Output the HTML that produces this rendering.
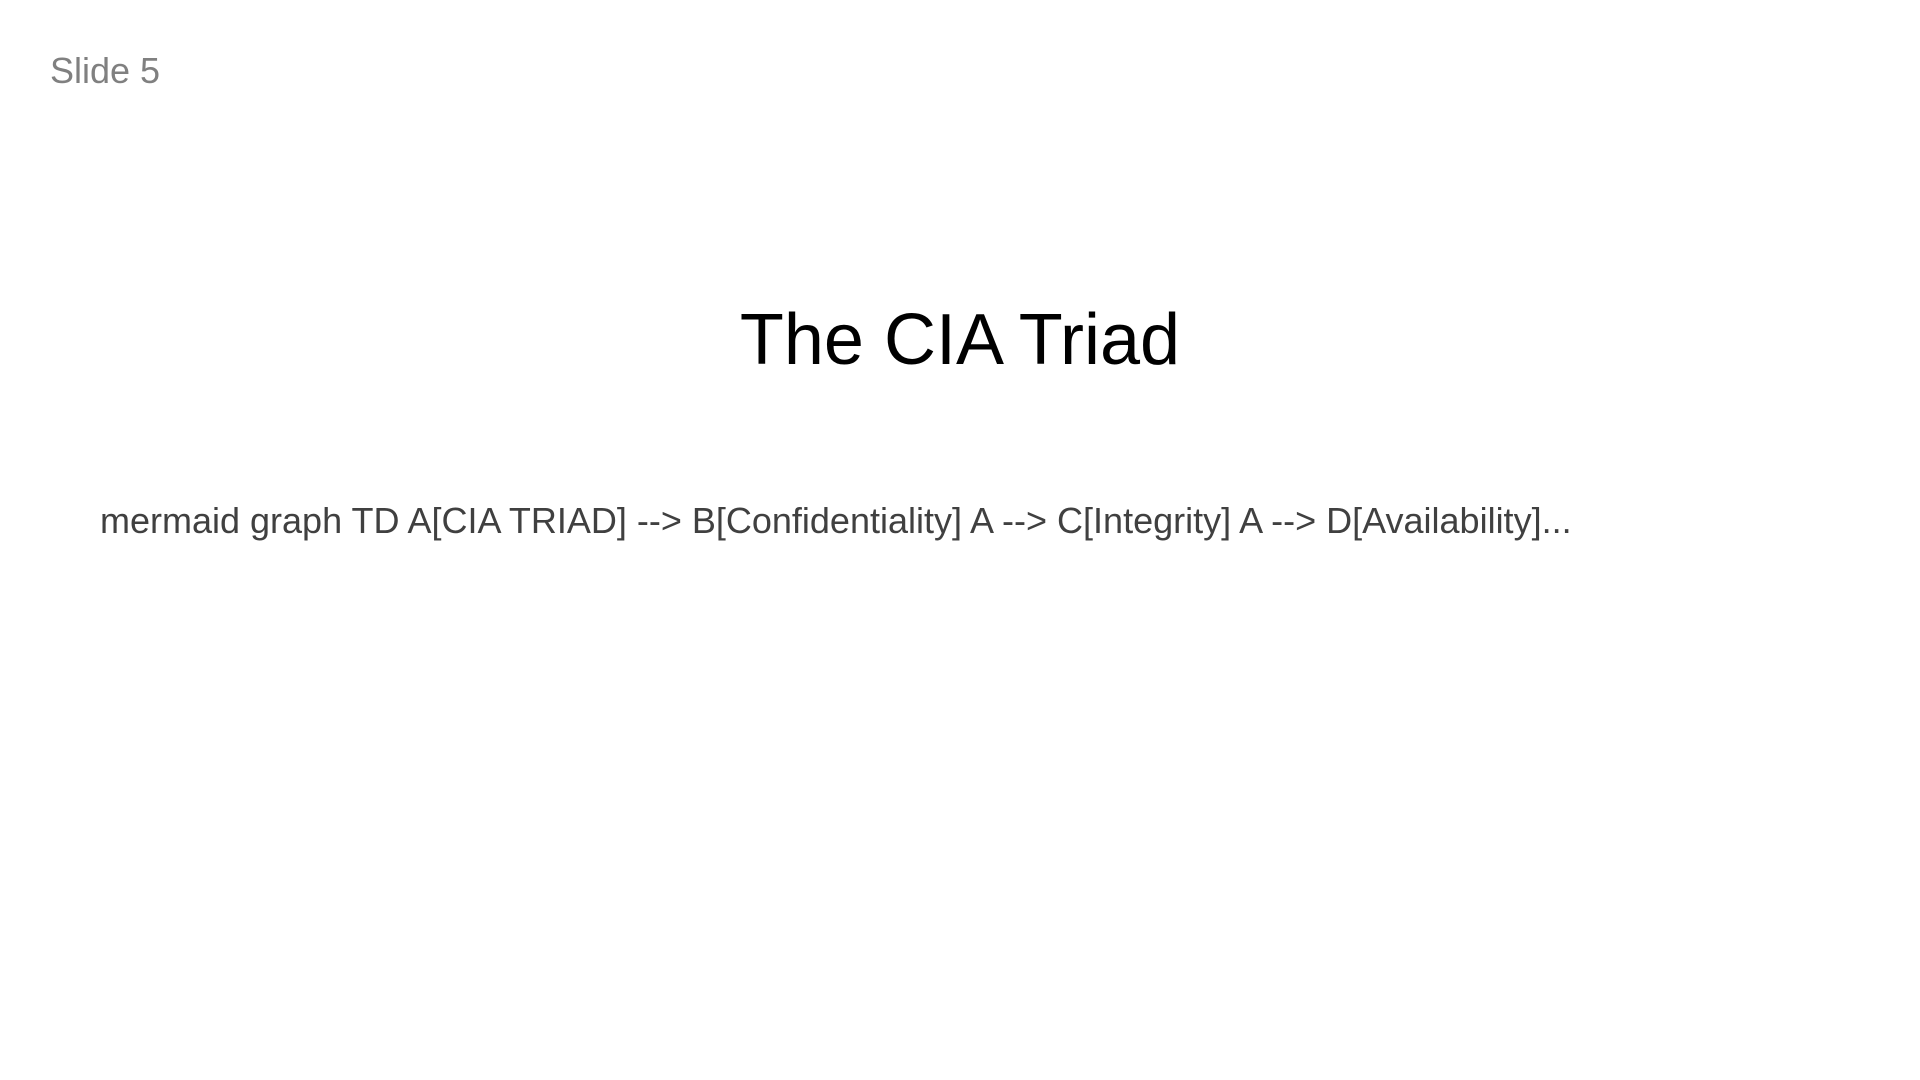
<!DOCTYPE html>
<html><head><meta charset="utf-8"><style>
html,body{margin:0;padding:0;background:#fff;}
body{width:1920px;height:1080px;position:relative;overflow:hidden;font-family:"Liberation Sans",Arial,sans-serif;}
div{position:absolute;line-height:1;white-space:nowrap;}
#s{left:50px;top:53px;font-size:36px;color:#808080;}
#t{left:0;width:1920px;text-align:center;top:304px;font-size:72px;color:#000;}
#b{left:100px;top:503px;font-size:36px;color:#404040;}
</style></head><body>
<div id="s">Slide 5</div>
<div id="t">The CIA Triad</div>
<div id="b">mermaid graph TD A[CIA TRIAD] --&gt; B[Confidentiality] A --&gt; C[Integrity] A --&gt; D[Availability]...</div>
</body></html>
